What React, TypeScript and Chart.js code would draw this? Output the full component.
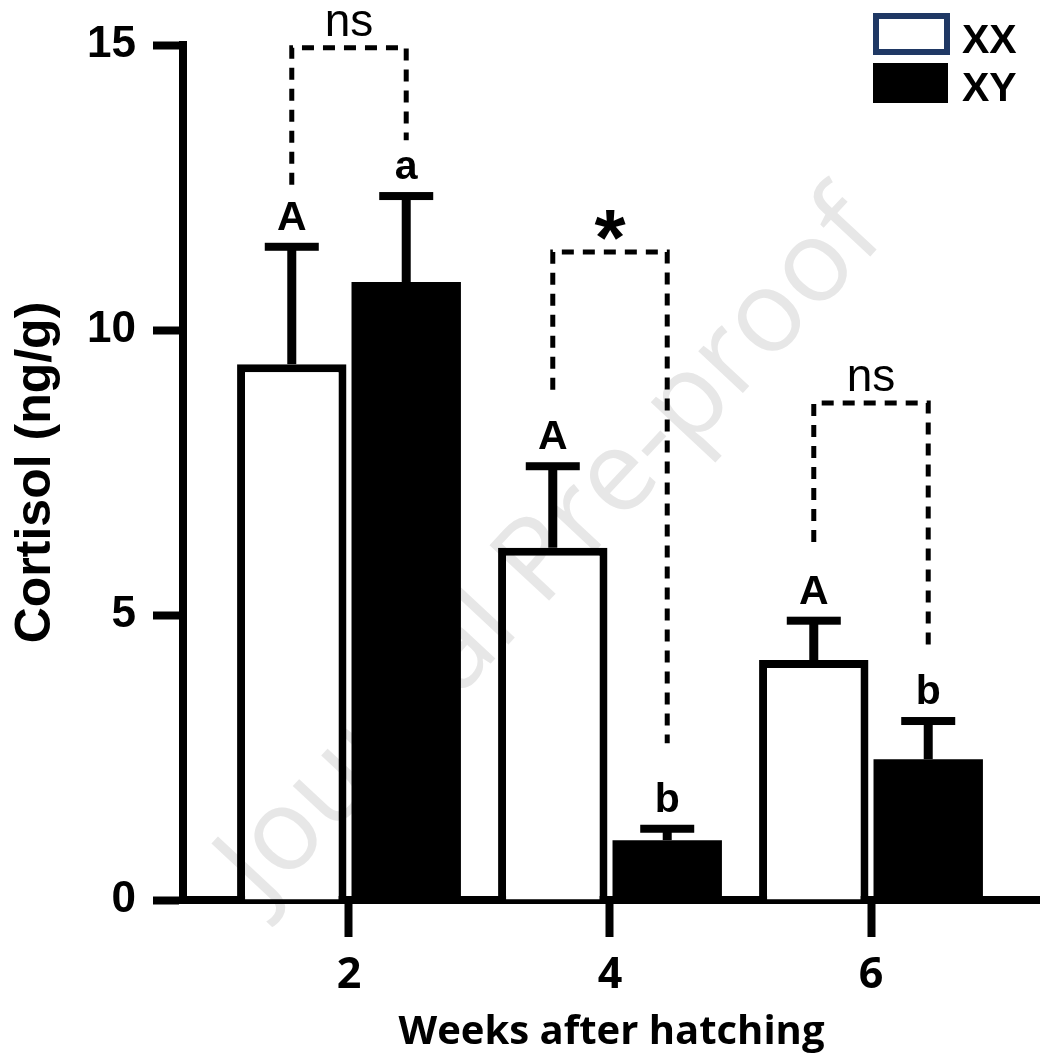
import React, { useEffect, useRef } from 'react';
import { Chart, registerables } from 'chart.js';

Chart.register(...registerables);

// ---- data ----
const weeks = [2, 4, 6];
const weekLabels = ['2', '4', '6'];
const seriesNames = ['XX', 'XY'];
const xxMean = [9.4, 6.18, 4.21];
const xyMean = [10.84, 1.05, 2.47];
const xxErr = [2.06, 1.43, 0.69];
const xyErr = [1.51, 0.2, 0.67];
const xxLetters = ['A', 'A', 'A'];
const xyLetters = ['a', 'b', 'b'];
const sigLabels = ['ns', '*', 'ns'];
const bracketTop = [14.95, 11.37, 8.72];
const bracketLeftEnd = [12.55, 8.95, 6.28];
const bracketRightEnd = [13.33, 2.75, 4.44];
const yTicks = [0, 5, 10, 15];
const yTitle = 'Cortisol (ng/g)';
const xTitle = 'Weeks after hatching';
const watermark = 'Journal Pre-proof';

const ARIAL = '"Liberation Sans", Arial, sans-serif';
const OPEN = '"Open Sans", "Liberation Sans", sans-serif';

const annotationPlugin = {
  id: 'annotations',
  afterDatasetsDraw(chart: any) {
    const ctx = chart.ctx;
    const y = chart.scales.y;
    const means = [xxMean, xyMean];
    const errs = [xxErr, xyErr];
    const letters = [xxLetters, xyLetters];
    ctx.save();
    for (let d = 0; d < 2; d++) {
      const meta = chart.getDatasetMeta(d);
      meta.data.forEach((bar: any, i: number) => {
        const cx = bar.x;
        const top = y.getPixelForValue(means[d][i] + errs[d][i]);
        const base = y.getPixelForValue(means[d][i]);
        ctx.fillStyle = '#000';
        ctx.fillRect(cx - 4.5, top, 9, base - top);
        ctx.fillRect(cx - 27, top - 4, 54, 8);
        ctx.font = `bold 41px ${ARIAL}`;
        ctx.textAlign = 'center';
        ctx.textBaseline = 'alphabetic';
        ctx.fillText(letters[d][i], cx, top - 17);
      });
    }
    const m0 = chart.getDatasetMeta(0);
    const m1 = chart.getDatasetMeta(1);
    for (let i = 0; i < weeks.length; i++) {
      const x1 = m0.data[i].x;
      const x2 = m1.data[i].x;
      const yt = y.getPixelForValue(bracketTop[i]);
      const yl = y.getPixelForValue(bracketLeftEnd[i]);
      const yr = y.getPixelForValue(bracketRightEnd[i]);
      ctx.save();
      ctx.setLineDash([12, 9]);
      ctx.lineWidth = 5;
      ctx.strokeStyle = '#000';
      ctx.beginPath();
      ctx.moveTo(x1, yl);
      ctx.lineTo(x1, yt);
      ctx.lineTo(x2, yt);
      ctx.lineTo(x2, yr);
      ctx.stroke();
      ctx.restore();
      const lab = sigLabels[i];
      ctx.font = lab === '*' ? `bold 80px ${ARIAL}` : `46px ${ARIAL}`;
      ctx.textAlign = 'center';
      ctx.textBaseline = 'alphabetic';
      const mt = ctx.measureText(lab);
      const desc = mt.actualBoundingBoxDescent || 0;
      ctx.fillStyle = '#000';
      ctx.fillText(lab, (x1 + x2) / 2, yt - 12 - desc);
    }
    ctx.restore();
  },
  afterDraw(chart: any) {
    const ctx = chart.ctx;
    ctx.save();
    // legend
    const ds = chart.data.datasets;
    ctx.lineWidth = 6;
    ctx.strokeStyle = '#1f3864';
    ctx.fillStyle = '#ffffff';
    ctx.fillRect(873, 13, 77, 42);
    ctx.strokeRect(876, 16, 71, 36);
    ctx.fillStyle = ds[1].backgroundColor;
    ctx.fillRect(873, 63, 75, 40);
    ctx.fillStyle = '#000';
    ctx.font = `bold 41px ${ARIAL}`;
    ctx.textAlign = 'left';
    ctx.textBaseline = 'alphabetic';
    ctx.fillText(ds[0].label, 962, 53);
    ctx.fillText(ds[1].label, 962, 101);
    // watermark
    ctx.globalCompositeOperation = 'multiply';
    ctx.translate(552, 550);
    ctx.rotate((-47 * Math.PI) / 180);
    ctx.font = `114px ${OPEN}`;
    ctx.fillStyle = '#e7e7e7';
    ctx.textAlign = 'center';
    ctx.textBaseline = 'middle';
    ctx.fillText(watermark, 0, 0);
    ctx.restore();
  },
};

export default function App() {
  const canvasRef = useRef<HTMLCanvasElement | null>(null);

  useEffect(() => {
    const canvas = canvasRef.current;
    if (!canvas) return;
    const chart = new Chart(canvas, {
      type: 'bar',
      data: {
        datasets: [
          {
            label: seriesNames[0],
            data: weeks.map((w, i) => ({ x: w, y: xxMean[i] })),
            backgroundColor: '#ffffff',
            borderColor: '#000000',
            borderWidth: 8,
            categoryPercentage: 0.877,
            barPercentage: 0.956,
          },
          {
            label: seriesNames[1],
            data: weeks.map((w, i) => ({ x: w, y: xyMean[i] })),
            backgroundColor: '#000000',
            borderColor: '#000000',
            borderWidth: 0,
            categoryPercentage: 0.877,
            barPercentage: 0.956,
          },
        ],
      } as any,
      options: {
        animation: false,
        responsive: true,
        maintainAspectRatio: false,
        devicePixelRatio: 1,
        layout: { padding: { top: 45, left: 0, right: 0, bottom: 0 } },
        plugins: {
          legend: { display: false },
          tooltip: { enabled: false },
        },
        scales: {
          x: {
            type: 'linear',
            min: 0.728,
            max: 7.295,
            offset: false,
            afterBuildTicks: (s: any) => {
              s.ticks = weeks.map((v) => ({ value: v }));
            },
            afterFit: (s: any) => {
              s.height = 161;
            },
            grid: {
              drawOnChartArea: false,
              drawTicks: true,
              tickLength: 37,
              tickWidth: 8,
              tickColor: '#000',
              offset: false,
            },
            border: { display: true, width: 8, color: '#000' },
            ticks: {
              callback: (_v: any, i: number) => weekLabels[i],
              font: { family: OPEN, size: 43, weight: 'bold' },
              color: '#000',
              padding: 13,
              maxRotation: 0,
              autoSkip: false,
            },
            title: {
              display: true,
              text: xTitle,
              font: { family: OPEN, size: 40, weight: 'bold' },
              color: '#000',
              padding: { top: 0, bottom: 4 },
            },
          },
          y: {
            min: yTicks[0],
            max: yTicks[yTicks.length - 1],
            afterBuildTicks: (s: any) => {
              s.ticks = yTicks.map((v) => ({ value: v }));
            },
            afterFit: (s: any) => {
              s.width = 183;
            },
            grid: {
              drawOnChartArea: false,
              drawTicks: true,
              tickLength: 30,
              tickWidth: 8,
              tickColor: '#000',
            },
            border: { display: true, width: 8, color: '#000' },
            ticks: {
              font: { family: ARIAL, size: 44, weight: 'bold' },
              color: '#000',
              padding: 17,
            },
            title: {
              display: true,
              text: yTitle,
              font: { family: ARIAL, size: 50, weight: 'bold' },
              color: '#000',
              padding: { top: 6, bottom: 0 },
            },
          },
        },
      } as any,
      plugins: [annotationPlugin],
    });
    return () => chart.destroy();
  }, []);

  return (
    <div style={{ position: 'absolute', left: 0, top: 0, width: 1040, height: 1061, background: '#fff' }}>
      <canvas ref={canvasRef} />
    </div>
  );
}
